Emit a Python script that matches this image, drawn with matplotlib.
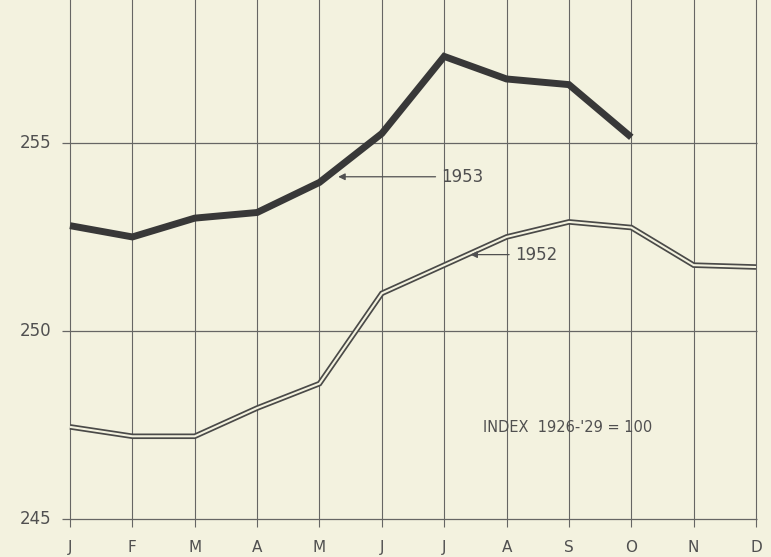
"""Wholesale price index by month, 1952 vs 1953"""

import numpy as np
import matplotlib.pyplot as plt

months = ['J', 'F', 'M', 'A', 'M', 'J', 'J', 'A', 'S', 'O', 'N', 'D']
idx_1953 = [252.8, 252.5, 253.0, 253.15, 253.95, 255.25, 257.3, 256.7, 256.55, 255.15]
idx_1952 = [247.45, 247.2, 247.2, 247.95, 248.6, 251.0, 251.75, 252.5, 252.9, 252.75,
            251.75, 251.7]
yticks = [245, 250, 255]

paper = '#f3f2df'
ink = '#383838'
grid = '#666664'
txt = '#505050'

fig = plt.figure(figsize=(7.71, 5.57), dpi=100, facecolor=paper)
ax = fig.add_axes([0, 0, 1, 1])
ax.set_facecolor(paper)
ax.set_xlim(-1.1225, 11.24)
ax.set_ylim(243.99, 258.8)
ax.axis('off')

x = np.arange(len(months))

# grid
ax.vlines(x, 244.8, 259.5, color=grid, lw=0.8)
ax.hlines(yticks, -0.13, 11.02, color=grid, lw=0.9)

# 1953: heavy solid line
x53 = np.arange(len(idx_1953))
ax.plot(x53, idx_1953, color=ink, lw=5.0, solid_joinstyle='miter',
        solid_capstyle='butt')

# 1952: open double line
ax.plot(x, idx_1952, color='#4a4a48', lw=4.0, solid_joinstyle='miter',
        solid_capstyle='butt')
ax.plot(x, idx_1952, color=paper, lw=1.5, solid_joinstyle='miter',
        solid_capstyle='butt')

# labels
for v in yticks:
    ax.text(-0.3, v, str(v), ha='right', va='center', fontsize=12,
            color=txt)
for i, m in enumerate(months):
    ax.text(i, 244.23, m, ha='center', va='center', fontsize=11,
            color=txt)

lbl = dict(fontsize=12, color=txt, va='center')
ax.annotate('1953', xy=(4.3, 254.1), xytext=(5.95, 254.1), ha='left',
            arrowprops=dict(arrowstyle='-|>', color=txt, lw=0.9,
                            shrinkA=2, shrinkB=0, mutation_scale=10), **lbl)
ax.annotate('1952', xy=(6.42, 252.03), xytext=(7.13, 252.03), ha='left',
            arrowprops=dict(arrowstyle='-|>', color=txt, lw=0.9,
                            shrinkA=2, shrinkB=0, mutation_scale=10), **lbl)
ax.text(6.63, 247.44, "INDEX  1926-'29 = 100", fontsize=10.5,
        color=txt, ha='left', va='center')

plt.savefig('out.png', dpi=100, facecolor=paper)
